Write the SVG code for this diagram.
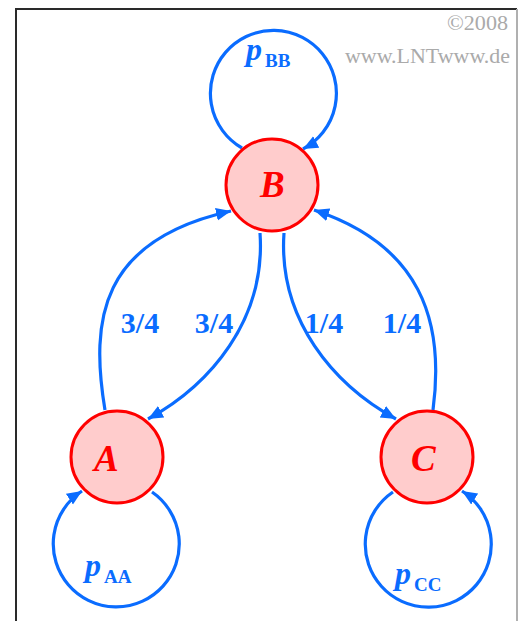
<svg xmlns="http://www.w3.org/2000/svg" width="519" height="621" viewBox="0 0 519 621">
<style>
.node{fill:#ffcccc;stroke:#ff0000;stroke-width:3}
.nl{font-family:"Liberation Serif",serif;font-weight:bold;font-style:italic;font-size:37px;fill:#ff0000}
.edge{fill:none;stroke:#0a6cff;stroke-width:3.2}
.lab{font-family:"Liberation Serif",serif;font-weight:bold;font-size:30px;fill:#0a6cff;text-anchor:middle}
.p{font-family:"Liberation Serif",serif;font-weight:bold;font-style:italic;font-size:32px;fill:#0a6cff}
.sub{font-family:"Liberation Serif",serif;font-weight:bold;font-size:19px;fill:#0a6cff}
.wm{font-family:"Liberation Serif",serif;font-size:20px;fill:#aaaaaa}
</style>
<defs>
<marker id="arr" markerUnits="userSpaceOnUse" markerWidth="18" markerHeight="14" refX="15" refY="6.5" orient="auto">
<path d="M0 0 L15 6.5 L0 13 Z" fill="#0a6cff"/>
</marker>
</defs>
<rect x="0" y="0" width="519" height="621" fill="#ffffff"/>
<path d="M16 621 V9 H517" fill="none" stroke="#2a2a2a" stroke-width="2"/>
<line x1="517" y1="9" x2="517" y2="621" stroke="#b0b0b0" stroke-width="2"/>
<g id="watermark">
<text class="wm" x="447" y="30" textLength="61" lengthAdjust="spacingAndGlyphs">©2008</text>
<text class="wm" x="345" y="63" textLength="165" lengthAdjust="spacingAndGlyphs">www.LNTwww.de</text>
</g>
<g id="connectors">
<path class="edge" d="M242 148 A63 63 0 1 1 303 149" marker-end="url(#arr)"/>
<path class="edge" d="M152 492 A63 63 0 1 1 82 491" marker-end="url(#arr)"/>
<path class="edge" d="M393 492 A63 63 0 1 0 462 491" marker-end="url(#arr)"/>
<path class="edge" d="M105 410 C90 320 100 240 231 211" marker-end="url(#arr)"/>
<path class="edge" d="M260 233 C266 320 210 385 148 419" marker-end="url(#arr)"/>
<path class="edge" d="M284 233 C278 320 334 385 396 419" marker-end="url(#arr)"/>
<path class="edge" d="M433 410 C445 320 420 245 314 210" marker-end="url(#arr)"/>
<text class="lab" x="140" y="333">3/4</text>
<text class="lab" x="214" y="333">3/4</text>
<text class="lab" x="324" y="333">1/4</text>
<text class="lab" x="402" y="333">1/4</text>
<text x="246" y="60"><tspan class="p">p</tspan><tspan class="sub" x="265" y="67">BB</tspan></text>
<text x="85" y="576"><tspan class="p">p</tspan><tspan class="sub" x="104" y="583">AA</tspan></text>
<text x="395" y="584"><tspan class="p">p</tspan><tspan class="sub" x="414" y="591">CC</tspan></text>
</g>
<g id="node-B">
<circle class="node" cx="272" cy="185" r="46"/>
<text class="nl" x="260" y="197">B</text>
</g>
<g id="node-A">
<circle class="node" cx="117" cy="457" r="46"/>
<text class="nl" x="94" y="471">A</text>
</g>
<g id="node-C">
<circle class="node" cx="427" cy="457" r="46"/>
<text class="nl" x="411" y="471">C</text>
</g>
</svg>
